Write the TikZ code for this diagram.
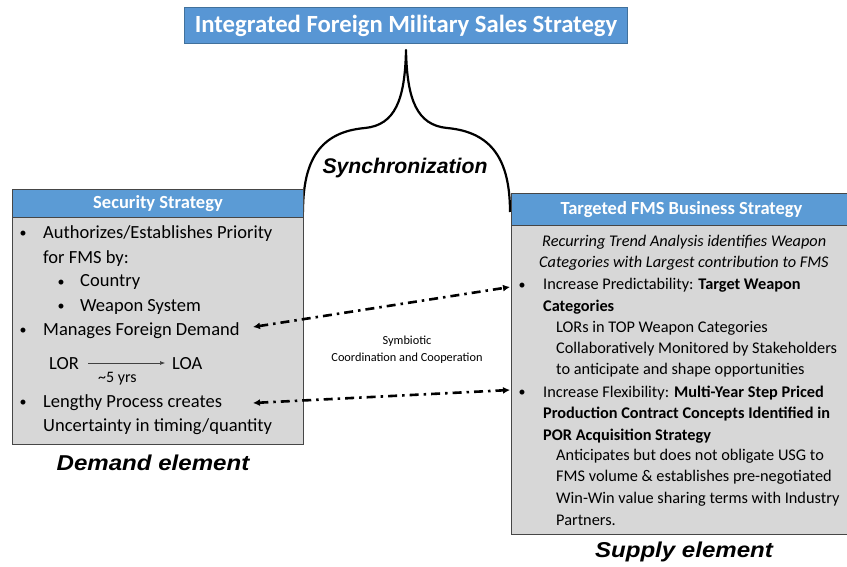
\documentclass[tikz,border=0pt]{standalone}
\usepackage{fontspec}
\setmainfont{Carlito}
\newfontfamily\arialf{Liberation Sans}
\usetikzlibrary{arrows.meta}
\definecolor{hblue}{RGB}{91,155,213}
\definecolor{tblue}{RGB}{88,150,212}
\definecolor{bgray}{RGB}{215,215,215}
\definecolor{edge}{RGB}{70,70,70}
\definecolor{tedge}{RGB}{65,113,156}
\tikzset{
  titlebox/.style={draw=tedge, line width=1pt, fill=tblue, text=white, font=\fontsize{24.7}{28}\selectfont\bfseries, inner sep=0, anchor=north west},
  hdrbox/.style={draw=edge, line width=1pt, fill=hblue, text=white, font=\fontsize{18.5}{22}\selectfont\bfseries, inner sep=0, anchor=north west},
  bodybox/.style={draw=edge, line width=1.3pt, fill=bgray, inner sep=0, anchor=north west},
  ltxt/.style={font=\fontsize{18.5}{24}\selectfont, inner sep=0, anchor=base west},
  rtxt/.style={font=\fontsize{16.3}{21}\selectfont, inner sep=0, anchor=base west},
  bul/.style={font=\fontsize{14}{16}\selectfont, inner sep=0, anchor=base},
  elem/.style={font=\arialf\fontsize{21.5}{24}\selectfont\bfseries\itshape, inner sep=0},
  small/.style={font=\fontsize{12.3}{17}\selectfont, inner sep=0},
  linkarrow/.style={line width=2.6pt, dash pattern=on 9pt off 5pt on 2.5pt off 5pt, {Latex[length=7pt,width=7pt]}-{Latex[length=7pt,width=7pt]}},
}
\begin{document}
\begin{tikzpicture}[x=1pt,y=-1pt]
\useasboundingbox (0,0) rectangle (847,567);
\fill[white] (0,0) rectangle (847,567);

% title
\node[titlebox, minimum width=443pt, minimum height=36pt] (title) at (184,7) {Integrated Foreign Military Sales Strategy};

% synchronization bracket
\draw[line width=2.2pt, line join=round] (303,212) .. controls (303,160) and (320,132) .. (365,128)
   .. controls (395,125) and (405,100) .. (406,50)
   .. controls (407,100) and (417,125) .. (447,128)
   .. controls (492,132) and (510,160) .. (510,212);
\node[elem, font=\arialf\fontsize{21.2}{24}\selectfont\bfseries\itshape] (sync) at (405,168) {Synchronization};

% left box
\node[bodybox, minimum width=291pt, minimum height=227pt] (lbody) at (12,217) {};
\node[hdrbox, minimum width=291pt, minimum height=28pt] (lhead) at (12,189) {Security Strategy};

\node[bul] (lb1) at (23,238) {•};
\node[ltxt] (l1) at (43,239) {Authorizes/Establishes Priority};
\node[ltxt] (l2) at (43,263) {for FMS by:};
\node[bul] (lb2) at (61,286) {•};
\node[ltxt] (l3) at (80,287) {Country};
\node[bul] (lb3) at (61,310) {•};
\node[ltxt] (l4) at (80,311) {Weapon System};
\node[bul] (lb4) at (23,334) {•};
\node[ltxt] (l5) at (43,335) {Manages Foreign Demand};
\node[ltxt] (lor) at (49,369) {LOR};
\node[ltxt] (loa) at (172,369) {LOA};
\node[font=\fontsize{16}{18}\selectfont, inner sep=0, anchor=base west] (yrs) at (98,382) {\textasciitilde5 yrs};
\draw[-{Latex[length=5pt,width=4pt]}, line width=0.6pt, draw=black!75] (88,363) -- (165,363);
\node[bul] (lb5) at (23,406) {•};
\node[ltxt] (l6) at (43,407) {Lengthy Process creates};
\node[ltxt] (l7) at (43,431) {Uncertainty in timing/quantity};
\node[elem] (dem) at (153,463) {\scalebox{1.12}[1]{Demand element}};

% right box
\node[bodybox, minimum width=340pt, minimum height=309pt] (rbody) at (511,225) {};
\node[hdrbox, minimum width=340pt, minimum height=32pt] (rhead) at (511,193) {Targeted FMS Business Strategy};

\node[rtxt] (r1) at (542,247) {\itshape Recurring Trend Analysis identifies Weapon};
\node[rtxt] (r2) at (539,268) {\itshape Categories with Largest contribution to FMS};
\node[bul] (rb1) at (522,289) {•};
\node[rtxt] (r3) at (543,290) {Increase Predictability: \textbf{Target Weapon}};
\node[rtxt] (r4) at (543,311) {\textbf{Categories}};
\node[rtxt] (r5) at (556,332) {LORs in TOP Weapon Categories};
\node[rtxt] (r6) at (556,353) {Collaboratively Monitored by Stakeholders};
\node[rtxt] (r7) at (556,374) {to anticipate and shape opportunities};
\node[bul] (rb2) at (522,396) {•};
\node[rtxt] (r8) at (543,397) {Increase Flexibility: \textbf{Multi-Year Step Priced}};
\node[rtxt] (r9) at (543,418) {\textbf{Production Contract Concepts Identified in}};
\node[rtxt] (r10) at (543,440) {\textbf{POR Acquisition Strategy}};
\node[rtxt] (r11) at (556,460) {Anticipates but does not obligate USG to};
\node[rtxt] (r12) at (556,481) {FMS volume \& establishes pre-negotiated};
\node[rtxt] (r13) at (556,503) {Win-Win value sharing terms with Industry};
\node[rtxt] (r14) at (556,525) {Partners.};
\node[elem] (sup) at (684,552) {\scalebox{1.12}[1]{Supply element}};

% symbiotic label
\node[small, align=center] (sym) at (407,350) {Symbiotic\\Coordination and Cooperation};

% dash-dot links
\coordinate (a1l) at (253,327);
\coordinate (a1r) at (510,287);
\coordinate (a2l) at (253,403);
\coordinate (a2r) at (510,390);
\draw[linkarrow] (a1l) -- (a1r);
\draw[linkarrow] (a2l) -- (a2r);
\end{tikzpicture}
\end{document}
